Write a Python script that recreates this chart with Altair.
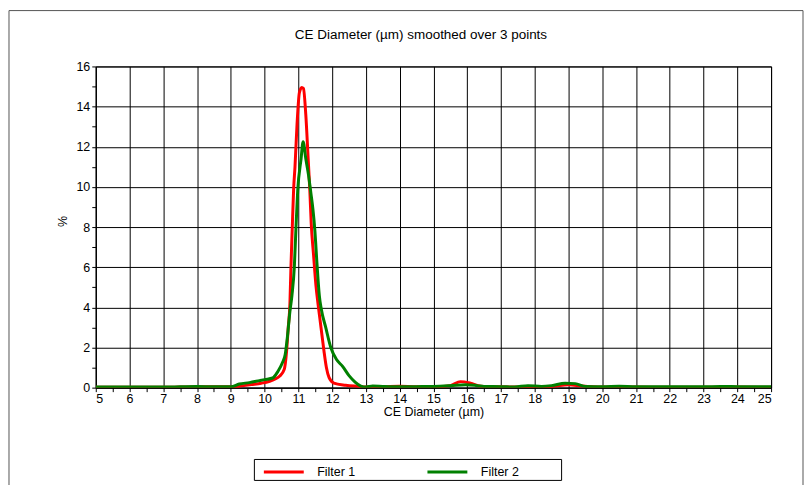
import altair as alt
import pandas as pd

# ---- data ----
series_names = ["Filter 1", "Filter 2"]
series_colors = ["#ff0000", "#008000"]
chart_title = "CE Diameter (µm) smoothed over 3 points"

f1_x = [5.0, 6.0, 7.0, 7.5, 8.0, 8.5, 9.0, 9.3, 9.6, 9.9, 10.15, 10.3, 10.45, 10.58,
        10.65, 10.7, 10.75, 10.78, 10.82, 10.86, 10.9, 10.96, 11.03, 11.1, 11.15,
        11.22, 11.29, 11.34, 11.38, 11.45, 11.52, 11.58, 11.64, 11.7, 11.76, 11.83, 11.91,
        12.05, 12.4, 12.8, 13.0, 13.5, 14.0, 14.5, 15.0, 15.5, 15.8, 16.1, 16.4,
        17.0, 17.5, 18.0, 18.5, 19.0, 19.4, 20.0, 21.0, 22.0, 23.0, 24.0, 25.0]
f1_y = [0.02, 0.02, 0.02, 0.03, 0.04, 0.05, 0.04, 0.08, 0.15, 0.22, 0.32, 0.42, 0.58, 0.9,
        1.8, 3.0, 4.2, 6.0, 8.0, 9.9, 11.0, 13.1, 14.7, 14.95, 14.9,
        13.6, 11.4, 9.8, 8.2, 6.6, 5.1, 4.2, 3.4, 2.6, 1.8, 1.0, 0.5,
        0.23, 0.12, 0.06, 0.03, 0.04, 0.07, 0.04, 0.04, 0.1, 0.3, 0.22, 0.07,
        0.04, 0.03, 0.05, 0.06, 0.15, 0.08, 0.03, 0.03, 0.02, 0.02, 0.03, 0.02]

f2_x = [5.0, 6.0, 7.0, 8.0, 8.5, 9.0, 9.25, 9.55, 9.85, 10.0, 10.24, 10.39, 10.53, 10.61,
        10.68, 10.75, 10.81, 10.88, 10.93, 10.98, 11.08, 11.14, 11.22, 11.3, 11.37,
        11.43, 11.49, 11.55, 11.62, 11.68, 11.81, 11.96, 12.13, 12.31, 12.5, 12.68,
        12.85, 13.0, 13.2, 13.5, 14.0, 14.5, 15.0, 15.5, 15.95, 16.3, 16.5, 17.0,
        17.4, 17.8, 18.2, 18.5, 18.9, 19.2, 19.5, 20.0, 20.5, 21.0, 21.5, 22.0,
        22.5, 23.0, 23.5, 24.0, 24.5, 25.0]
f2_y = [0.03, 0.03, 0.03, 0.06, 0.04, 0.04, 0.18, 0.25, 0.35, 0.4, 0.48, 0.8, 1.25, 1.65,
        2.6, 3.8, 4.6, 6.0, 8.0, 9.8, 11.4, 12.25, 11.4, 10.6, 9.7,
        8.9, 7.8, 6.2, 4.6, 3.9, 3.0, 2.0, 1.4, 1.06, 0.6, 0.28,
        0.08, 0.03, 0.08, 0.06, 0.04, 0.05, 0.06, 0.1, 0.15, 0.1, 0.06, 0.05,
        0.03, 0.1, 0.06, 0.1, 0.22, 0.2, 0.06, 0.04, 0.07, 0.04, 0.05, 0.04,
        0.05, 0.04, 0.06, 0.05, 0.04, 0.04]

x_tick_values = [5 + 0.5 * i for i in range(41)]
y_tick_values = list(range(0, 17))

df = pd.concat([
    pd.DataFrame({"d": f1_x, "p": f1_y, "s": series_names[0]}),
    pd.DataFrame({"d": f2_x, "p": f2_y, "s": series_names[1]}),
])

FONT = "Liberation Sans"
FS = 12.5
W, H = 677, 322

lines = alt.Chart(df).mark_line(strokeWidth=3, interpolate="monotone", clip=True).encode(
    x=alt.X("d:Q", title="CE Diameter (µm)",
            scale=alt.Scale(domain=[5, 25], nice=False, zero=False),
            axis=alt.Axis(values=x_tick_values,
                          labelExpr="datum.value % 1 === 0 ? format(datum.value, 'd') : ''",
                          labelOverlap=False,
                          gridOpacity={"condition": {"test": "datum.value % 1 === 0", "value": 1}, "value": 0},
                          gridColor="#000000", gridWidth=1,
                          domainColor="#000000", tickColor="#000000", tickSize=4,
                          labelFont=FONT, labelFontSize=FS, labelColor="#000000", labelPadding=1,
                          titleFont=FONT, titleFontSize=FS, titleFontWeight="normal",
                          titleColor="#000000", titleBaseline="middle", titleY=24)),
    y=alt.Y("p:Q", title="%",
            scale=alt.Scale(domain=[0, 16], nice=False),
            axis=alt.Axis(values=y_tick_values,
                          labelExpr="datum.value % 2 === 0 ? format(datum.value, 'd') : ''",
                          labelOverlap=False,
                          gridOpacity={"condition": {"test": "datum.value % 2 === 0", "value": 1}, "value": 0},
                          gridColor="#000000", gridWidth=1,
                          domainColor="#000000", tickColor="#000000", tickSize=4,
                          labelFont=FONT, labelFontSize=FS, labelColor="#000000", labelPadding=2,
                          titleFont=FONT, titleFontSize=FS, titleFontWeight="normal",
                          titleColor="#000000", titleX=-26, titleY=155)),
    color=alt.Color("s:N",
                    scale=alt.Scale(domain=series_names, range=series_colors),
                    legend=alt.Legend(title=None, orient="none", legendX=167, legendY=385,
                                      direction="horizontal", symbolType="stroke",
                                      symbolStrokeWidth=3, symbolSize=1600,
                                      labelFont=FONT, labelFontSize=FS, labelColor="#000000",
                                      labelOffset=12, columnPadding=65, padding=0)),
)

title_mark = alt.Chart(pd.DataFrame({"t": [chart_title]})).mark_text(
    font=FONT, fontSize=13.5, color="#000000", align="center", baseline="middle"
).encode(text="t:N", x=alt.value(326), y=alt.value(-32))

frame = alt.Chart(pd.DataFrame({"k": [0]})).mark_rect(
    fill=None, stroke="#555555", strokeWidth=1
).encode(x=alt.value(-87), x2=alt.value(709), y=alt.value(-56), y2=alt.value(460))

legend_box = alt.Chart(pd.DataFrame({"k": [0]})).mark_rect(
    fill=None, stroke="#000000", strokeWidth=1
).encode(x=alt.value(159), x2=alt.value(467), y=alt.value(394), y2=alt.value(415))

chart = alt.layer(frame, legend_box, title_mark, lines).properties(
    width=W, height=H,
    autosize=alt.AutoSizeParams(type="none"),
    padding={"left": 88, "top": 58, "right": 33, "bottom": 97},
).configure_view(stroke="#000000", strokeWidth=1)

chart.save("out.html", embed_options={"renderer": "svg", "actions": False})
